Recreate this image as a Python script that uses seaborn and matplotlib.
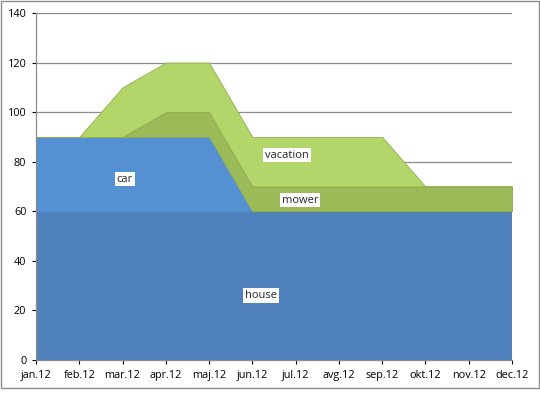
import matplotlib
matplotlib.use("Agg")
import matplotlib.pyplot as plt
import seaborn as sns
import numpy as np

months = ["jan.12", "feb.12", "mar.12", "apr.12", "maj.12", "jun.12",
          "jul.12", "avg.12", "sep.12", "okt.12", "nov.12", "dec.12"]
house = [60, 60, 60, 60, 60, 60, 60, 60, 60, 60, 60, 60]
car = [30, 30, 30, 30, 30, 0, 0, 0, 0, 0, 0, 0]
mower = [0, 0, 0, 10, 10, 10, 10, 10, 10, 10, 10, 10]
vacation = [0, 0, 20, 20, 20, 20, 20, 20, 20, 0, 0, 0]

series_names = ["house", "car", "mower", "vacation"]
colors = ["#4f81bd", "#5590d3", "#9bbb59", "#b3d66b"]

sns.set_style("white")
plt.rcParams["font.family"] = ["Open Sans", "DejaVu Sans"]

fig = plt.figure(figsize=(5.4, 3.93), dpi=100)
ax = fig.add_axes([36 / 540, 33 / 393, 476 / 540, 347 / 393])

x = np.arange(len(months))
polys = ax.stackplot(x, house, car, mower, vacation, colors=colors,
                     labels=series_names, linewidth=0)
# thin darker outline on the green layers like the reference
for p, ec in zip(polys, [None, None, "#8aa84c", "#8fb04f"]):
    if ec:
        p.set_edgecolor(ec)
        p.set_linewidth(0.6)

ax.set_xlim(0, len(months) - 1)
ax.set_ylim(0, 140)
ax.set_yticks(range(0, 141, 20))
ax.set_xticks(x)
ax.set_xticklabels(months)
ax.yaxis.grid(True, color="#8c8c8c", linewidth=0.9)
ax.set_axisbelow(True)
ax.tick_params(axis="both", labelsize=7.8, colors="#000000", length=3,
               direction="out", width=0.8)
ax.tick_params(axis="x", pad=4)
ax.tick_params(axis="y", pad=4)
for s in ["top", "right"]:
    ax.spines[s].set_visible(False)
for s in ["left", "bottom"]:
    ax.spines[s].set_color("#8c8c8c")
    ax.spines[s].set_linewidth(0.9)
ax.xaxis.set_ticks_position("bottom")
ax.yaxis.set_ticks_position("left")
for t in ax.get_xticklines() + ax.get_yticklines():
    t.set_color("#8c8c8c")

# data labels
label_pos = {"car": (2.05, 73), "vacation": (5.8, 82.7),
             "mower": (6.1, 64.5), "house": (5.2, 26)}
for name, (lx, ly) in label_pos.items():
    ax.text(lx, ly, name, ha="center", va="center", fontsize=8,
            bbox=dict(facecolor="white", edgecolor="none", pad=1.2))

# chart border
fig.patches.append(plt.Rectangle((0.002, 0.012), 0.996, 0.985,
                                 transform=fig.transFigure, fill=False,
                                 edgecolor="#8c8c8c", linewidth=1.0))

fig.savefig("out.png", dpi=100)
